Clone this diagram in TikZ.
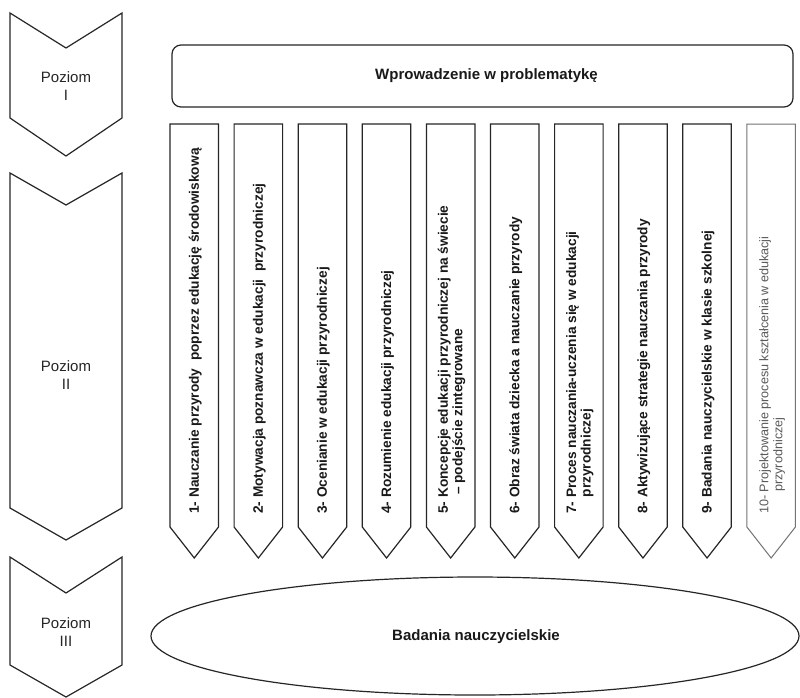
\documentclass[tikz,border=0pt]{standalone}
\usepackage{fontspec}
\setmainfont{Liberation Sans}
\begin{document}
\begin{tikzpicture}[x=1pt,y=-1pt,
  outl/.style={draw=black!85, line width=1.2pt, line join=miter},
  outlight/.style={draw=black!55, line width=1pt, line join=miter},
  lvltext/.style={align=center, font=\fontsize{15}{18}\selectfont, text=black!85, inner sep=0pt},
  coltext/.style={rotate=90, anchor=west, align=left, font=\fontsize{13.7}{14.5}\selectfont\bfseries, text=black!90, inner sep=0pt},
  coltextlight/.style={coltext, font=\fontsize{12.6}{14}\selectfont, text=black!65},
  headtext/.style={font=\fontsize{15}{18}\selectfont\bfseries, text=black!90, inner sep=0pt}]
\useasboundingbox (0,0) rectangle (800,697);
\fill[white] (0,0) rectangle (800,697);

% level chevrons
\draw[outl] (10,13) -- (66,48) -- (122,13) -- (122,118) -- (66,156) -- (10,118) -- cycle;
\node[lvltext] (p1) at (66,86) {Poziom\\I};
\draw[outl] (10,173) -- (66,205) -- (122,173) -- (122,508) -- (66,540) -- (10,508) -- cycle;
\node[lvltext] (p2) at (66,375) {Poziom\\II};
\draw[outl] (10,557) -- (66,593) -- (122,557) -- (122,665) -- (66,697) -- (10,665) -- cycle;
\node[lvltext] (p3) at (66,632) {Poziom\\III};

% top box
\node[outl, rounded corners=9pt, minimum width=621pt, minimum height=62pt, inner sep=0pt] (intro) at (482.5,76) {};
\node[headtext] (introtext) at ([xshift=4pt]intro.center) {Wprowadzenie w problematykę};

% columns
\foreach \i in {1,...,10}{
  \pgfmathsetmacro{\xl}{170+64.1*(\i-1)}
  \pgfmathsetmacro{\xr}{\xl+48.5}
  \pgfmathsetmacro{\xc}{\xl+24.25}
  \ifnum\i=10
    \draw[outlight] (\xl,124) -- (\xr,124) -- (\xr,527) -- (\xc,558) -- (\xl,527) -- cycle;
  \else
    \draw[outl] (\xl,124) -- (\xr,124) -- (\xr,527) -- (\xc,558) -- (\xl,527) -- cycle;
  \fi
  \coordinate (c\i) at (\xc+1,514);
}
\node[coltext] (t1) at (c1) {1- Nauczanie przyrody \ poprzez edukację środowiskową};
\node[coltext] (t2) at (c2) {2- Motywacja poznawcza w edukacji \ przyrodniczej};
\node[coltext] (t3) at (c3) {3- Ocenianie w edukacji przyrodniczej};
\node[coltext] (t4) at (c4) {4- Rozumienie edukacji przyrodniczej};
\node[coltext] (t5) at (c5) {5- Koncepcje edukacji przyrodniczej na świecie\\\hspace*{19pt}– podejście zintegrowane};
\node[coltext] (t6) at (c6) {6- Obraz świata dziecka a nauczanie przyrody};
\node[coltext] (t7) at (c7) {7- Proces nauczania-uczenia się w edukacji\\\hspace*{16.5pt}przyrodniczej};
\node[coltext] (t8) at (c8) {8- Aktywizujące strategie nauczania przyrody};
\node[coltext] (t9) at (c9) {9- Badania nauczycielskie w klasie szkolnej};
\node[coltextlight] (t10) at (c10) {10- Projektowanie procesu kształcenia w edukacji\\\hspace*{22pt}przyrodniczej};

% ellipse
\draw[outl] (475,636) ellipse [x radius=324, y radius=59];
\node[headtext] (res) at (476,637) {Badania nauczycielskie};
\end{tikzpicture}
\end{document}
